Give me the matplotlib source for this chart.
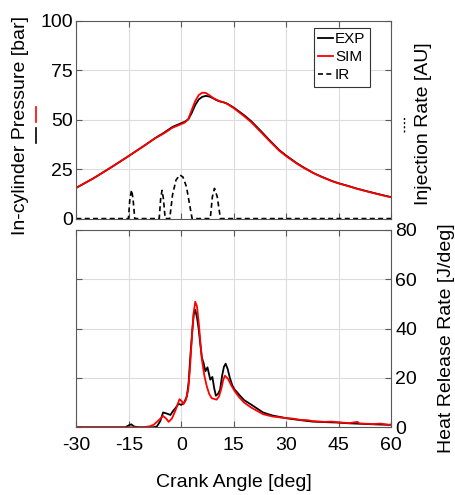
import numpy as np
import matplotlib
matplotlib.use("Agg")
import matplotlib.pyplot as plt
from matplotlib.lines import Line2D

plt.rcParams['font.family'] = ['Liberation Sans', 'DejaVu Sans']
plt.rcParams['axes.unicode_minus'] = False #plain hyphen like the original

#crank angles for the pressure traces [deg]
p_ang = [-30, -25, -20, -15, -10, -7.5, -5, -2.5, 0, 1, 2, 3, 4, 5, 6, 7, 8, 9, 10,
         11, 12, 13, 15, 18, 20, 23, 25, 28, 30, 33, 35, 38, 40, 43, 45, 48, 50,
         53, 55, 58, 60]
#measured in-cylinder pressure [bar]
p_exp = [15.6, 20.5, 26.0, 31.7, 37.6, 40.7, 43.4, 46.4, 48.3, 49.0, 50.2, 53.5,
         57.5, 60.3, 61.6, 62.1, 61.8, 61.0, 60.0, 59.3, 58.9, 58.3, 56.2, 52.3,
         49.3, 43.9, 40.1, 34.7, 31.9, 28.1, 25.9, 22.9, 21.3, 19.1, 17.9, 16.4,
         15.3, 13.9, 13.0, 11.7, 10.9]
#simulated in-cylinder pressure [bar]
p_sim = [15.6, 20.5, 26.0, 31.7, 37.6, 40.6, 43.1, 46.0, 47.8, 48.6, 50.3, 55.0,
         59.5, 62.5, 63.7, 63.6, 62.5, 61.2, 60.2, 59.4, 58.9, 58.2, 55.9, 51.8,
         48.8, 43.4, 39.7, 34.4, 31.6, 27.9, 25.7, 22.8, 21.2, 19.0, 17.8, 16.3,
         15.2, 13.8, 12.9, 11.6, 10.8]

#injection rate trace (arbitrary units, drawn on the pressure scale)
ir_ang = [-30, -15.1, -14.7, -14.2, -13.8, -13.3, -6.3, -5.9, -5.5, -5.1, -4.6,
          -3.3, -2.5, -1.5, -0.4, 0.5, 1.5, 2.3, 3.1, 8.3, 8.9, 9.5, 10.3, 11.2, 60]
ir_val = [0, 0, 10, 14.5, 10, 0, 0, 10, 14.3, 10, 0,
          0, 12, 19.5, 22.1, 21, 16, 8, 0, 0, 11, 15.3, 11, 0, 0]

#heat release rate, experiment [J/deg]
hrr_exp_ang = [-30, -16, -15, -14.3, -13.5, -12, -8, -7, -6, -5.2, -4.2, -3.1, -2.4,
               -1.7, -0.8, 0, 0.8, 1.6, 2.1, 2.6, 3.2, 3.6, 4.0, 4.5, 5.0, 5.5, 5.9,
               6.4, 6.9, 7.5, 8.3, 8.9, 9.4, 9.9, 10.5, 11.1, 11.7, 12.2, 12.7, 13.3,
               13.9, 14.6, 15.3, 15.8, 16.8, 18, 20, 23.4, 26, 30, 34, 37.6, 41, 45,
               48, 51.7, 55, 59.3, 60]
hrr_exp = [0, 0, 0.8, 1.2, 0.3, 0, 0, 0.3, 2.5, 6.0, 5.6, 5.0, 6.5,
           7.7, 9.5, 9.1, 10.0, 12.5, 18.0, 28.8, 40.0, 46.0, 47.6, 44.5, 39.7, 33.0, 28.2,
           26.0, 22.7, 24.3, 19.3, 20.4, 16.0, 12.8, 13.5, 15.2, 21.0, 24.5, 25.8, 23.5,
           20.0, 17.0, 15.2, 14.5, 12.8, 11.0, 9.2, 6.0, 4.8, 3.7, 2.9, 2.3, 2.1, 1.9,
           1.6, 1.4, 1.2, 1.0, 1.0]

#heat release rate, simulation [J/deg]
hrr_sim_ang = [-30, -11, -9, -7.9, -6.5, -5.2, -4.3, -3.6, -2.7, -1.7, -0.5, 0.2, 0.6,
               1.3, 2.0, 2.5, 3.0, 3.5, 4.0, 4.5, 5.0, 5.5, 5.9, 6.6, 7.3, 8.0, 8.7,
               10.1, 10.8, 11.5, 12.0, 12.5, 13.4, 14.3, 15.3, 16.5, 18, 20, 23.4, 26,
               30, 32, 34, 36, 37.6, 41, 43, 45, 48, 50.4, 51, 51.7, 55, 57, 59.3, 60]
hrr_sim = [0, 0, 0.4, 1.0, 2.8, 4.6, 3.5, 2.2, 3.5, 6.7, 11.4, 10.5, 9.3,
           11.0, 15.4, 24.0, 35.8, 46.0, 50.9, 49.0, 42.4, 34.0, 27.5, 21.0, 16.6, 13.5, 11.8,
           11.2, 12.5, 15.9, 19.2, 20.9, 19.6, 17.0, 14.6, 12.3, 10.0, 8.0, 5.3, 4.4,
           3.7, 3.5, 3.0, 2.9, 2.5, 2.2, 2.3, 2.0, 1.7, 2.2, 1.5, 1.5, 1.3, 1.5, 1.0, 1.1]

x_ticks = [-30, -15, 0, 15, 30, 45, 60]
p_ticks = [0, 25, 50, 75, 100]
hrr_ticks = [0, 20, 40, 60, 80]

SPINE = '0.35'
GRID = '#dcdcdc'
TICK_FS = 14
LABEL_FS = 14

fig = plt.figure(figsize=(4.56, 4.95), dpi=100)
ax1 = fig.add_axes([0.1675, 0.5584, 0.69, 0.3992]) #pressure + injection rate
ax2 = fig.add_axes([0.1675, 0.1368, 0.69, 0.3986]) #heat release rate

#top panel
ax1.plot(p_ang, p_exp, color='black', lw=1.3, label='EXP')
ax1.plot(p_ang, p_sim, color='red', lw=1.3, label='SIM')
ax1.plot(ir_ang, ir_val, color='black', lw=1.2, ls=(0, (3, 2)), label='IR')
ax1.set_xlim(-30, 60)
ax1.set_ylim(0, 100)
ax1.set_xticks(x_ticks)
ax1.set_yticks(p_ticks)
ax1.set_xticklabels([])
ax1.tick_params(direction='in', length=4, top=True, right=True, labelsize=TICK_FS,
                color=SPINE, pad=2.5)
leg = ax1.legend(loc='upper right', bbox_to_anchor=(0.933, 0.965), borderaxespad=0,
                 fontsize=11, handlelength=1.0, handletextpad=0.1, labelspacing=0.25,
                 borderpad=0.3, fancybox=False, framealpha=1)
leg.get_frame().set_edgecolor('0.2')
leg.get_frame().set_linewidth(0.8)

#bottom panel
ax2.plot(hrr_exp_ang, hrr_exp, color='black', lw=1.3)
ax2.plot(hrr_sim_ang, hrr_sim, color='red', lw=1.3)
ax2.set_xlim(-30, 60)
ax2.set_ylim(0, 80)
ax2.set_xticks(x_ticks)
ax2.set_yticks(hrr_ticks)
ax2.yaxis.tick_right()
ax2.tick_params(direction='in', length=4, top=True, left=True, right=True,
                labelsize=TICK_FS, color=SPINE)
ax2.tick_params(axis='x', pad=7)
ax2.tick_params(axis='y', pad=3)

for ax in (ax1, ax2):
    ax.grid(True, color=GRID, lw=0.8)
    ax.set_axisbelow(True)
    for s in ax.spines.values():
        s.set_color(SPINE)
        s.set_linewidth(0.8)

#axis labels
fig.text(0.046, 0.747, 'In-cylinder Pressure [bar]', rotation=90, ha='center',
         va='center', fontsize=LABEL_FS)
fig.text(0.929, 0.75, 'Injection Rate [AU]', rotation=90, ha='center', va='center',
         fontsize=LABEL_FS)
fig.text(0.979, 0.317, 'Heat Release Rate [J/deg]', rotation=90, ha='center',
         va='center', fontsize=LABEL_FS)
fig.text(0.512, 0.025, 'Crank Angle [deg]', ha='center', va='center', fontsize=LABEL_FS)

#little line samples next to the labels
fig.add_artist(Line2D([0.079, 0.079], [0.754, 0.784], color='red', lw=1.2,
                      transform=fig.transFigure))
fig.add_artist(Line2D([0.079, 0.079], [0.711, 0.741], color='black', lw=1.2,
                      transform=fig.transFigure))
fig.add_artist(Line2D([0.886, 0.886], [0.733, 0.763], color='black', lw=1.0,
                      ls=(0, (1.5, 1.5)), transform=fig.transFigure))

fig.savefig('out.png', dpi=100)
